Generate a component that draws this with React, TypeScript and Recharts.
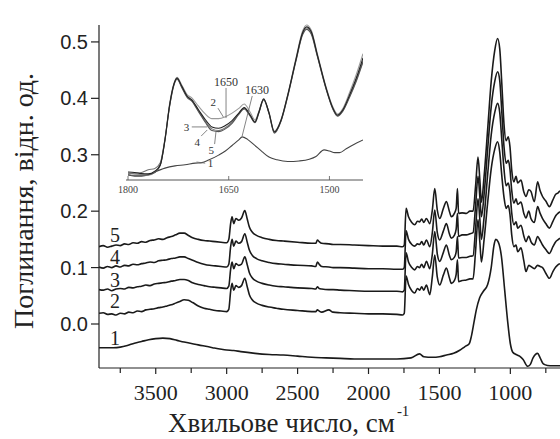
import React from 'react';
import { LineChart, Line, XAxis, YAxis, ReferenceLine, ReferenceDot, Label } from 'recharts';

// main spectra, curves 2-5 share one wavenumber grid (cm-1)
const wnFilm = [
  3900, 3870, 3840, 3810, 3780, 3750, 3720, 3690, 3660, 3630, 3600, 3570, 3540, 3510, 3480, 3450,
  3420, 3390, 3360, 3330, 3300, 3270, 3240, 3200, 3160, 3120, 3080, 3040, 3000, 2985, 2972, 2962,
  2950, 2935, 2915, 2895, 2872, 2855, 2840, 2820, 2790, 2750, 2700, 2650, 2600, 2500, 2400, 2372,
  2360, 2348, 2330, 2280, 2250, 2200, 2100, 2000, 1900, 1800, 1760, 1748, 1735, 1718, 1695, 1674,
  1655, 1640, 1625, 1610, 1592, 1568, 1550, 1533, 1515, 1498, 1472, 1451, 1430, 1416, 1395, 1382,
  1373, 1365, 1340, 1310, 1285, 1263, 1245, 1228, 1215, 1204, 1185, 1160, 1135, 1110, 1090, 1075,
  1060, 1045, 1030, 1015, 1003, 990, 975, 960, 948, 925, 905, 890, 870, 855, 831, 808,
  790, 773, 750, 725, 700, 680, 665, 650,
];
const film5 = [
  0.137, 0.139, 0.136, 0.138, 0.14, 0.139, 0.142, 0.141, 0.144, 0.143, 0.146, 0.145, 0.148, 0.149, 0.151, 0.15,
  0.153, 0.155, 0.158, 0.161, 0.161, 0.157, 0.153, 0.15, 0.148, 0.147, 0.146, 0.145, 0.144, 0.15, 0.178, 0.19,
  0.178, 0.187, 0.184, 0.188, 0.201, 0.186, 0.172, 0.163, 0.157, 0.153, 0.15, 0.148, 0.147, 0.145, 0.143, 0.143,
  0.149, 0.146, 0.143, 0.142, 0.141, 0.141, 0.14, 0.139, 0.138, 0.138, 0.137, 0.14, 0.205, 0.19, 0.18, 0.176,
  0.182, 0.181, 0.186, 0.18, 0.187, 0.178, 0.202, 0.24, 0.202, 0.187, 0.205, 0.217, 0.2, 0.19, 0.196, 0.205,
  0.24, 0.196, 0.197, 0.196, 0.2, 0.2, 0.245, 0.296, 0.255, 0.216, 0.262, 0.345, 0.43, 0.485, 0.506, 0.488,
  0.425, 0.355, 0.325, 0.332, 0.315, 0.272, 0.252, 0.262, 0.25, 0.255, 0.234, 0.226, 0.238, 0.235, 0.217, 0.252,
  0.236, 0.226, 0.218, 0.208, 0.22, 0.23, 0.232, 0.236,
];
const film4 = [
  0.101, 0.099, 0.102, 0.1, 0.103, 0.101, 0.104, 0.103, 0.106, 0.105, 0.107, 0.108, 0.11, 0.109, 0.112, 0.113,
  0.114, 0.116, 0.117, 0.119, 0.119, 0.116, 0.113, 0.109, 0.106, 0.104, 0.103, 0.102, 0.101, 0.106, 0.137, 0.15,
  0.138, 0.147, 0.143, 0.146, 0.16, 0.145, 0.131, 0.122, 0.116, 0.112, 0.109, 0.107, 0.106, 0.104, 0.103, 0.102,
  0.11, 0.106, 0.102, 0.101, 0.1, 0.1, 0.099, 0.098, 0.098, 0.097, 0.097, 0.1, 0.165, 0.15, 0.141, 0.138,
  0.142, 0.141, 0.146, 0.14, 0.149, 0.137, 0.162, 0.202, 0.162, 0.149, 0.165, 0.178, 0.16, 0.152, 0.157, 0.168,
  0.196, 0.155, 0.158, 0.158, 0.16, 0.162, 0.21, 0.262, 0.225, 0.19, 0.23, 0.31, 0.385, 0.43, 0.447, 0.432,
  0.375, 0.315, 0.285, 0.29, 0.275, 0.236, 0.214, 0.222, 0.212, 0.216, 0.196, 0.188, 0.2, 0.187, 0.18, 0.208,
  0.196, 0.187, 0.178, 0.17, 0.182, 0.192, 0.196, 0.199,
];
const film3 = [
  0.061, 0.06, 0.062, 0.059, 0.062, 0.063, 0.062, 0.065, 0.064, 0.066, 0.067, 0.069, 0.068, 0.071, 0.072, 0.073,
  0.074, 0.076, 0.077, 0.079, 0.079, 0.077, 0.073, 0.07, 0.068, 0.066, 0.065, 0.064, 0.063, 0.067, 0.097, 0.11,
  0.098, 0.107, 0.104, 0.106, 0.119, 0.105, 0.091, 0.082, 0.076, 0.072, 0.069, 0.067, 0.066, 0.064, 0.063, 0.062,
  0.066, 0.063, 0.062, 0.061, 0.061, 0.06, 0.059, 0.058, 0.058, 0.058, 0.057, 0.06, 0.126, 0.11, 0.1, 0.096,
  0.102, 0.1, 0.106, 0.1, 0.111, 0.098, 0.124, 0.164, 0.124, 0.111, 0.127, 0.14, 0.122, 0.114, 0.118, 0.128,
  0.155, 0.117, 0.118, 0.118, 0.12, 0.121, 0.17, 0.222, 0.185, 0.15, 0.19, 0.265, 0.335, 0.375, 0.391, 0.375,
  0.325, 0.275, 0.245, 0.25, 0.235, 0.196, 0.176, 0.181, 0.17, 0.175, 0.156, 0.146, 0.156, 0.146, 0.14, 0.155,
  0.148, 0.14, 0.132, 0.125, 0.137, 0.146, 0.149, 0.152,
];
const film2 = [
  0.019, 0.02, 0.017, 0.018, 0.016, 0.019, 0.018, 0.021, 0.02, 0.023, 0.022, 0.025, 0.026, 0.027, 0.029, 0.03,
  0.032, 0.034, 0.037, 0.04, 0.043, 0.042, 0.038, 0.032, 0.028, 0.026, 0.024, 0.023, 0.022, 0.026, 0.058, 0.072,
  0.06, 0.068, 0.065, 0.068, 0.081, 0.066, 0.052, 0.043, 0.037, 0.033, 0.03, 0.028, 0.026, 0.024, 0.022, 0.022,
  0.025, 0.023, 0.021, 0.025, 0.021, 0.02, 0.019, 0.018, 0.018, 0.017, 0.016, 0.019, 0.085, 0.07, 0.059, 0.055,
  0.063, 0.06, 0.066, 0.06, 0.069, 0.052, 0.084, 0.122, 0.083, 0.069, 0.087, 0.099, 0.082, 0.072, 0.077, 0.088,
  0.114, 0.075, 0.077, 0.078, 0.08, 0.08, 0.13, 0.185, 0.145, 0.11, 0.15, 0.215, 0.275, 0.31, 0.323, 0.305,
  0.262, 0.225, 0.205, 0.21, 0.195, 0.157, 0.137, 0.14, 0.128, 0.135, 0.112, 0.093, 0.104, 0.102, 0.098, 0.104,
  0.102, 0.1, 0.09, 0.081, 0.093, 0.101, 0.105, 0.107,
];

// curve 1
const wnGlass = [
  3900, 3800, 3750, 3700, 3650, 3600, 3550, 3500, 3450, 3400, 3350, 3300, 3200, 3100, 3000, 2950,
  2900, 2800, 2700, 2600, 2500, 2400, 2300, 2200, 2100, 2000, 1900, 1800, 1700, 1640, 1610, 1550,
  1500, 1450, 1400, 1360, 1320, 1290, 1275, 1255, 1240, 1217, 1190, 1160, 1135, 1115, 1103, 1085,
  1063, 1040, 1020, 1000, 983, 960, 935, 910, 878, 860, 840, 808, 790, 770, 758, 720, 650,
];
const glass1 = [
  -0.042, -0.042, -0.041, -0.038, -0.034, -0.031, -0.028, -0.026, -0.025, -0.026, -0.029, -0.032, -0.037, -0.042, -0.046, -0.047,
  -0.049, -0.052, -0.054, -0.055, -0.057, -0.059, -0.06, -0.061, -0.062, -0.062, -0.062, -0.062, -0.06, -0.053, -0.058, -0.059,
  -0.058, -0.055, -0.052, -0.047, -0.04, -0.035, -0.022, 0.005, 0.025, 0.046, 0.058, 0.07, 0.1, 0.14, 0.15, 0.145,
  0.12, 0.06, 0.007, -0.035, -0.05, -0.054, -0.057, -0.063, -0.075, -0.072, -0.06, -0.052, -0.06, -0.07, -0.072, -0.074, -0.074,
];

// inset, 1800-1450 cm-1
const wnInset = [
  1800, 1790, 1780, 1770, 1760, 1752, 1745, 1738, 1732, 1727, 1720, 1712, 1705, 1695, 1685, 1675,
  1665, 1655, 1645, 1635, 1627, 1618, 1611, 1605, 1598, 1590, 1582, 1572, 1562, 1550, 1540, 1534,
  1527, 1518, 1505, 1495, 1488, 1480, 1470, 1460, 1450,
];
const inset2 = [
  -0.22, -0.25, -0.28, -0.3, -0.18, 0.1, 1.0, 2.3, 3.0, 3.25, 2.97, 2.62, 2.5, 2.2, 1.92, 1.75,
  1.75, 1.82, 1.95, 2.12, 2.28, 1.98, 1.7, 2.02, 2.48, 1.98, 1.3, 1.72, 2.64, 3.92, 4.92, 5.14,
  4.95, 4.1, 2.9, 2.18, 1.92, 2.12, 2.7, 3.35, 4.1,
];
const inset3 = [
  -0.18, -0.2, -0.24, -0.25, -0.15, 0.07, 0.98, 2.25, 2.97, 3.22, 2.93, 2.57, 2.43, 2.07, 1.72, 1.45,
  1.4, 1.5, 1.68, 1.95, 2.15, 1.88, 1.63, 1.99, 2.46, 1.96, 1.27, 1.7, 2.61, 3.88, 4.86, 5.07,
  4.89, 4.06, 2.86, 2.14, 1.88, 2.07, 2.61, 3.22, 3.95,
];
const inset4 = [
  -0.25, -0.22, -0.2, -0.1, -0.05, 0.15, 1.02, 2.22, 2.95, 3.2, 2.9, 2.55, 2.4, 2.03, 1.66, 1.38,
  1.32, 1.42, 1.62, 1.92, 2.12, 1.86, 1.62, 1.98, 2.45, 1.95, 1.25, 1.68, 2.59, 3.85, 4.82, 5.03,
  4.85, 4.03, 2.84, 2.12, 1.86, 2.04, 2.56, 3.15, 3.85,
];
const inset5 = [
  -0.28, -0.3, -0.3, -0.28, -0.2, 0.05, 0.95, 2.2, 2.93, 3.18, 2.88, 2.52, 2.38, 2.0, 1.62, 1.32,
  1.28, 1.38, 1.58, 1.9, 2.1, 1.84, 1.6, 1.96, 2.43, 1.93, 1.22, 1.66, 2.56, 3.82, 4.78, 4.98,
  4.8, 4.0, 2.82, 2.1, 1.84, 2.02, 2.52, 3.1, 3.8,
];
const wnInset1 = [
  1800, 1790, 1780, 1770, 1760, 1745, 1730, 1715, 1700, 1690, 1680, 1665, 1655, 1645, 1635, 1630,
  1622, 1612, 1600, 1590, 1578, 1562, 1545, 1530, 1520, 1508, 1500, 1492, 1485, 1475, 1465, 1450,
];
const inset1 = [
  -0.29, -0.33, -0.33, -0.29, -0.18, -0.04, 0.04, 0.08, 0.14, 0.16, 0.25, 0.43, 0.58, 0.78, 0.98, 1.09,
  1.0, 0.8, 0.55, 0.36, 0.26, 0.2, 0.22, 0.28, 0.38, 0.62, 0.58, 0.52, 0.52, 0.66, 0.8, 0.98,
];

const mainTicksX = [3750, 3500, 3250, 3000, 2750, 2500, 2250, 2000, 1750, 1500, 1250, 1000, 750];
const mainTicksY = [0, 0.1, 0.2, 0.3, 0.4, 0.5];
const insetTicksX = [1800, 1650, 1500];
const insetTicksY = [0, 1, 2, 3, 4, 5];

const serif = "'Liberation Serif', 'Times New Roman', serif";
const sans = "'Liberation Sans', Arial, sans-serif";

const toRows = (wn: number[], v: number[]) => wn.map((w, i) => ({ wn: w, v: v[i] }));

const mainSeries = [
  { key: 's5', rows: toRows(wnFilm, film5) },
  { key: 's4', rows: toRows(wnFilm, film4) },
  { key: 's3', rows: toRows(wnFilm, film3) },
  { key: 's2', rows: toRows(wnFilm, film2) },
  { key: 's1', rows: toRows(wnGlass, glass1) },
];

const insetSeries = [
  { key: 'i1', rows: toRows(wnInset1, inset1), color: '#444' },
  { key: 'i2', rows: toRows(wnInset, inset2), color: '#9a9a9a' },
  { key: 'i4', rows: toRows(wnInset, inset4), color: '#777' },
  { key: 'i5', rows: toRows(wnInset, inset5), color: '#555' },
  { key: 'i3', rows: toRows(wnInset, inset3), color: '#222' },
];

// curve numbers on the main plot
const mainLabels = [
  { t: '5', wn: 3787, v: 0.158 },
  { t: '4', wn: 3787, v: 0.119 },
  { t: '3', wn: 3787, v: 0.078 },
  { t: '2', wn: 3787, v: 0.04 },
  { t: '1', wn: 3787, v: -0.025 },
];

// inset annotations: text, and leader lines
const insetLabels = [
  { t: '1650', wn: 1654, v: 3.08, size: 12 },
  { t: '1630', wn: 1608, v: 2.79, size: 12 },
  { t: '2', wn: 1673, v: 2.35, size: 11 },
  { t: '3', wn: 1713, v: 1.45, size: 11 },
  { t: '4', wn: 1697, v: 0.9, size: 11 },
  { t: '5', wn: 1676, v: 0.62, size: 11 },
  { t: '1', wn: 1677, v: 0.14, size: 11 },
];
const insetLeaders = [
  [1654, 2.86, 1654, 1.77],
  [1615, 2.57, 1630, 1.12],
  [1666, 2.13, 1658, 1.81],
  [1705, 1.45, 1682, 1.45],
  [1691, 1.12, 1682, 1.34],
  [1671, 0.83, 1669, 1.27],
  [1698, 0.18, 1685, 0.14],
];

const MainXTick = (props: any) => {
  const { x, y, payload } = props;
  const major = payload.value % 500 === 0;
  return (
    <g>
      <line x1={x} y1={y} x2={x} y2={y + (major ? 6 : 5)} stroke="#222" strokeWidth={1.2} />
      {major && (
        <text x={x} y={y + 32} textAnchor="middle" fontFamily={serif} fontSize={22} fill="#222">
          {payload.value}
        </text>
      )}
    </g>
  );
};

const InsetXTick = (props: any) => {
  const { x, y, payload } = props;
  return (
    <g>
      <line x1={x} y1={y} x2={x} y2={y - 4} stroke="#555" strokeWidth={0.8} />
      <text x={x} y={y + 13} textAnchor="middle" fontFamily={serif} fontSize={10} fill="#444">
        {payload.value}
      </text>
    </g>
  );
};

const textDot = (t: string, size: number, color: string) => (p: any) => (
  <text x={p.cx} y={p.cy} textAnchor="middle" dominantBaseline="central" fontFamily={serif} fontSize={size} style={{ fill: color }}>
    {t}
  </text>
);

export default function App() {
  return (
    <div style={{ position: 'absolute', left: 0, top: 0, width: 560, height: 439, overflow: 'hidden', background: '#fff' }}>
      <LineChart width={560} height={439} margin={{ top: 25, right: 0, bottom: 0, left: 39 }}>
        <XAxis
          type="number"
          dataKey="wn"
          domain={[650, 3900]}
          reversed
          allowDataOverflow
          ticks={mainTicksX}
          interval={0}
          height={71}
          stroke="#222"
          strokeWidth={1.2}
          tickLine={false}
          tickSize={0}
          tickMargin={0}
          tick={MainXTick}
        >
          <Label
            content={() => (
              <text x={168} y={432} fontFamily={serif} fontSize={27} fill="#222">
                Хвильове число, см
                <tspan dx={2} dy={-16} fontSize={15}>-1</tspan>
              </text>
            )}
          />
        </XAxis>
        <YAxis
          type="number"
          domain={[-0.078, 0.53]}
          allowDataOverflow
          ticks={mainTicksY}
          interval={0}
          width={60}
          stroke="#222"
          strokeWidth={1.2}
          tickSize={8}
          tickMargin={3}
          tickFormatter={(v: number) => v.toFixed(1)}
          tick={{ fontFamily: sans, fontSize: 20, fill: '#222' }}
        >
          <Label
            content={() => (
              <text x={33} y={201} transform="rotate(-90 33 201)" textAnchor="middle" fontFamily={serif} fontSize={28} fill="#222">
                Поглинання, відн. од.
              </text>
            )}
          />
        </YAxis>
        {mainSeries.map((s) => (
          <Line
            key={s.key}
            data={s.rows}
            dataKey="v"
            type="monotone"
            dot={false}
            stroke="#1a1a1a"
            strokeWidth={1.6}
            isAnimationActive={false}
          />
        ))}
        {mainLabels.map((l) => (
          <ReferenceDot key={l.t} x={l.wn} y={l.v} r={0} shape={textDot(l.t, 20, '#222')} />
        ))}
      </LineChart>

      <div style={{ position: 'absolute', left: 100, top: 0 }}>
        <LineChart width={280} height={200} margin={{ top: 15, right: 17, bottom: 0, left: 26 }}>
          <XAxis
            type="number"
            dataKey="wn"
            domain={[1450, 1803]}
            reversed
            allowDataOverflow
            ticks={insetTicksX}
            interval={0}
            height={20}
            stroke="#555"
            tickLine={false}
            tickSize={0}
            tickMargin={0}
            tick={InsetXTick}
          />
          <YAxis
            type="number"
            domain={[-0.47, 5.5]}
            allowDataOverflow
            ticks={insetTicksY}
            interval={0}
            width={0}
            mirror
            stroke="#555"
            tickSize={4}
            tickFormatter={() => ''}
          />
          {insetSeries.map((s) => (
            <Line
              key={s.key}
              data={s.rows}
              dataKey="v"
              type="monotone"
              dot={false}
              stroke={s.color}
              strokeWidth={1.1}
              isAnimationActive={false}
            />
          ))}
          {insetLeaders.map((d, i) => (
            <ReferenceLine
              key={i}
              segment={[{ x: d[0], y: d[1] }, { x: d[2], y: d[3] }]}
              stroke="#666"
              strokeWidth={0.8}
            />
          ))}
          {insetLabels.map((l) => (
            <ReferenceDot key={l.t} x={l.wn} y={l.v} r={0} shape={textDot(l.t, l.size, '#333')} />
          ))}
        </LineChart>
      </div>
    </div>
  );
}
